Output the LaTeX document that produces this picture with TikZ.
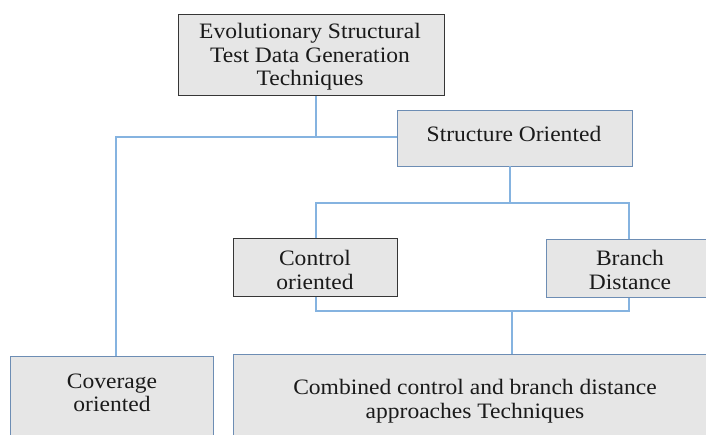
\documentclass[tikz,border=0pt]{standalone}
\usepackage{fontspec}
\setmainfont{Liberation Serif}[FakeStretch=1.07]
\begin{document}
\begin{tikzpicture}[x=1pt,y=-1pt,
  box/.style={draw, fill=boxfill, line width=1.4pt, inner sep=0pt, anchor=north west},
  darkbox/.style={box, draw=darkedge},
  bluebox/.style={box, draw=blueedge},
  lbl/.style={align=center, font=\fontsize{22}{23.5}\selectfont, inner sep=0pt, text=textcol},
  conn/.style={draw=connblue, line width=1.8pt}
]
\definecolor{boxfill}{HTML}{E6E6E6}
\definecolor{darkedge}{HTML}{363636}
\definecolor{blueedge}{HTML}{6D8DB4}
\definecolor{connblue}{HTML}{85B3E0}
\definecolor{textcol}{HTML}{1A1A1A}
\useasboundingbox (0,0) rectangle (706,434);

% boxes
\node[darkbox, minimum width=266pt, minimum height=81pt] (top) at (178,14) {};
\node[bluebox, minimum width=235pt, minimum height=56pt] (struct) at (397,110) {};
\node[darkbox, minimum width=164pt, minimum height=58pt] (ctrl) at (233,238) {};
\node[bluebox, minimum width=168pt, minimum height=58pt] (branch) at (546,239) {};
\node[bluebox, minimum width=203pt, minimum height=90pt] (cov) at (10,356) {};
\node[bluebox, minimum width=484pt, minimum height=92pt] (comb) at (233,354) {};

% labels
\node[lbl] (tTop) at (310,57) {Evolutionary Structural\\Test Data Generation\\Techniques};
\node[lbl] (tStruct) at (514,134) {Structure Oriented};
\node[lbl] (tCtrl) at (315,270) {Control\\oriented};
\node[lbl] (tBranch) at (630,270) {Branch\\Distance};
\node[lbl] (tCov) at (112,393) {Coverage\\oriented};
\node[lbl] (tComb) at (475,401) {Combined control and branch distance\\approaches Techniques};

% junction coordinates
\coordinate (j1) at (316,137);
\coordinate (j2) at (116,137);
\coordinate (s1) at (510,166);
\coordinate (j3) at (510,203);
\coordinate (j4) at (316,203);
\coordinate (j5) at (629,203);
\coordinate (b1) at (316,311);
\coordinate (b2) at (629,311);
\coordinate (b3) at (512,311);

% connectors
\draw[conn] (top.south -| j1) -- (j1);
\draw[conn] (struct.west |- j1) -- (j2) -- (cov.north -| j2);
\draw[conn] (s1) -- (j3);
\draw[conn] (ctrl.north -| j4) -- (j4) -- (j5) -- (branch.north -| j5);
\draw[conn] (ctrl.south -| b1) -- (b1) -- (b2) -- (branch.south -| b2);
\draw[conn] (b3) -- (comb.north -| b3);
\end{tikzpicture}
\end{document}
